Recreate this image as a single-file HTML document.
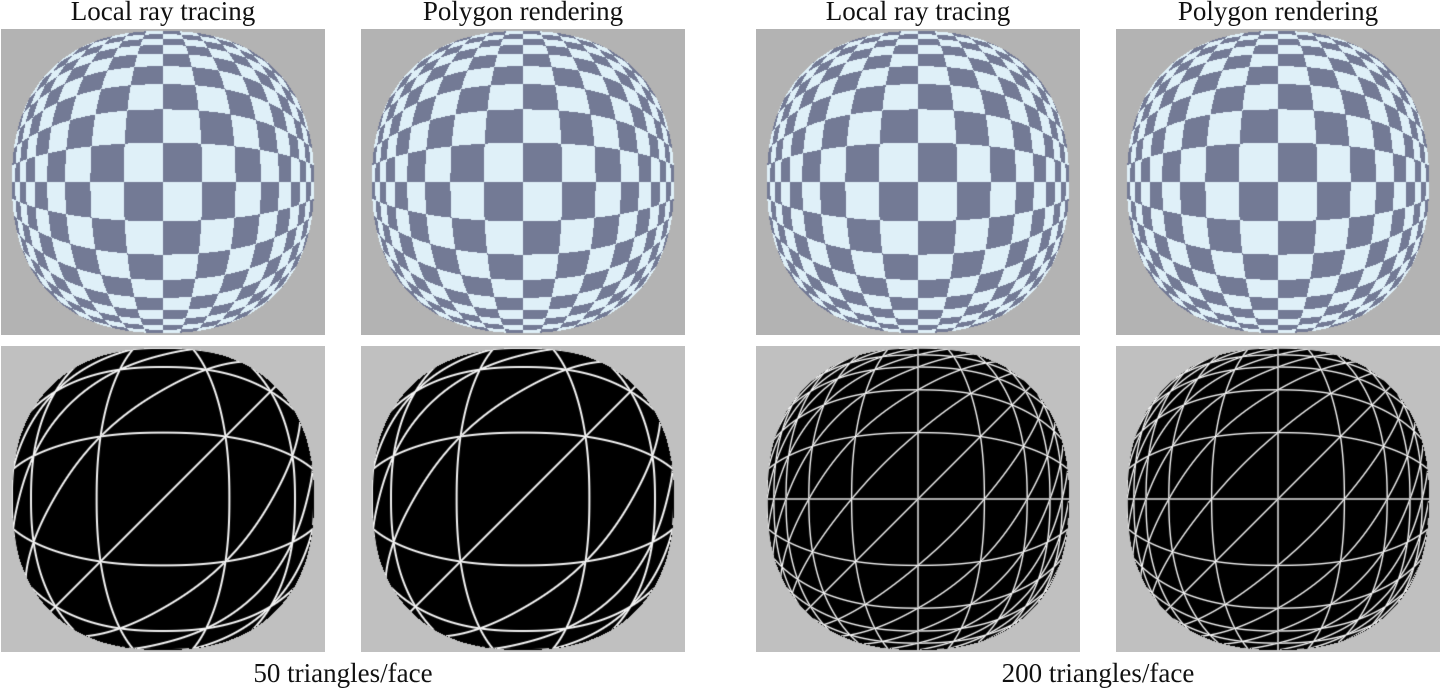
<!DOCTYPE html>
<html><head><meta charset="utf-8"><style>
body{margin:0;width:1440px;height:690px;background:#fff;position:relative;overflow:hidden;font-family:"Liberation Serif",serif;}
.t{position:absolute;font-size:27px;color:#111;text-align:center;white-space:nowrap;line-height:30px}
canvas{position:absolute}
</style></head><body>
<div class="t" style="left:1px;width:324px;top:-4px">Local ray tracing</div>
<div class="t" style="left:361px;width:324px;top:-4px">Polygon rendering</div>
<div class="t" style="left:756px;width:324px;top:-4px">Local ray tracing</div>
<div class="t" style="left:1116px;width:324px;top:-4px">Polygon rendering</div>
<div class="t" style="left:181px;width:324px;top:658px">50 triangles/face</div>
<div class="t" style="left:936px;width:324px;top:658px">200 triangles/face</div>
<script>
const panelLefts=[1,361,756,1116];
const panelNames=['local-ray-tracing-50','polygon-rendering-50','local-ray-tracing-200','polygon-rendering-200'];
const trianglesPerFace=[50,50,200,200];
const W=324,H=306,R=151,P=2.35,C=0.826,S=0.267;
function map(nx,ny){
  const r=Math.pow(Math.pow(Math.abs(nx),P)+Math.pow(Math.abs(ny),P),1/P);
  if(r>1)return null;
  const g=1/Math.sqrt(1-C*r*r);
  return [nx*g,ny*g];
}
function mk(x,y,name){
  const c=document.createElement('canvas');c.width=W;c.height=H;
  c.style.left=x+'px';c.style.top=y+'px';
  
  
  document.body.appendChild(c);return c;
}
panelLefts.forEach((px,i)=>{
  let c=mk(px,29,'checker-sphere-'+panelNames[i]);
  let ctx=c.getContext('2d');let im=ctx.createImageData(W,H);let d=im.data;
  for(let y=0;y<H;y++)for(let x=0;x<W;x++){
    const k=(y*W+x)*4;const m=map((x+0.5-162)/R,(y+0.5-153)/R);
    let col=[179,179,179];
    if(m){const par=(Math.floor(m[0]/S)+Math.floor(m[1]/S))&1;col=par?[115,122,149]:[223,240,248];}
    d[k]=col[0];d[k+1]=col[1];d[k+2]=col[2];d[k+3]=255;
  }
  ctx.putImageData(im,0,0);
  c=mk(px,346,'wireframe-sphere-'+panelNames[i]);
  ctx=c.getContext('2d');im=ctx.createImageData(W,H);d=im.data;
  const n=trianglesPerFace[i]===50?5:10;const sp=2*(1/Math.sqrt(1-C))/n;
  const off=n%2?0.5:0;const hw=trianglesPerFace[i]===50?1.0:0.7;
  for(let y=0;y<H;y++)for(let x=0;x<W;x++){
    const k=(y*W+x)*4;const fx=(x+0.5-162)/R,fy=(y+0.5-153)/R;const m=map(fx,fy);
    let v=192;
    if(m){
      const mx=map(fx+0.5/R,fy)||m, my=map(fx,fy+0.5/R)||m;
      const du=[(mx[0]-m[0])*2,(my[0]-m[0])*2], dv=[(mx[1]-m[1])*2,(my[1]-m[1])*2];
      const fU=m[0]/sp+off, fV=m[1]/sp+off, fW=(m[0]+m[1])/sp;
      const dist=(f,gx,gy)=>Math.abs(f-Math.round(f))*sp/Math.max(1e-6,Math.hypot(gx,gy));
      const best=Math.min(dist(fU,du[0],du[1]),dist(fV,dv[0],dv[1]),dist(fW,du[0]+dv[0],du[1]+dv[1]));
      const a=Math.max(0,Math.min(1,hw+0.5-best));
      v=Math.round(245*a);
    }
    d[k]=v;d[k+1]=v;d[k+2]=v;d[k+3]=255;
  }
  ctx.putImageData(im,0,0);
});
</script>
</body></html>
